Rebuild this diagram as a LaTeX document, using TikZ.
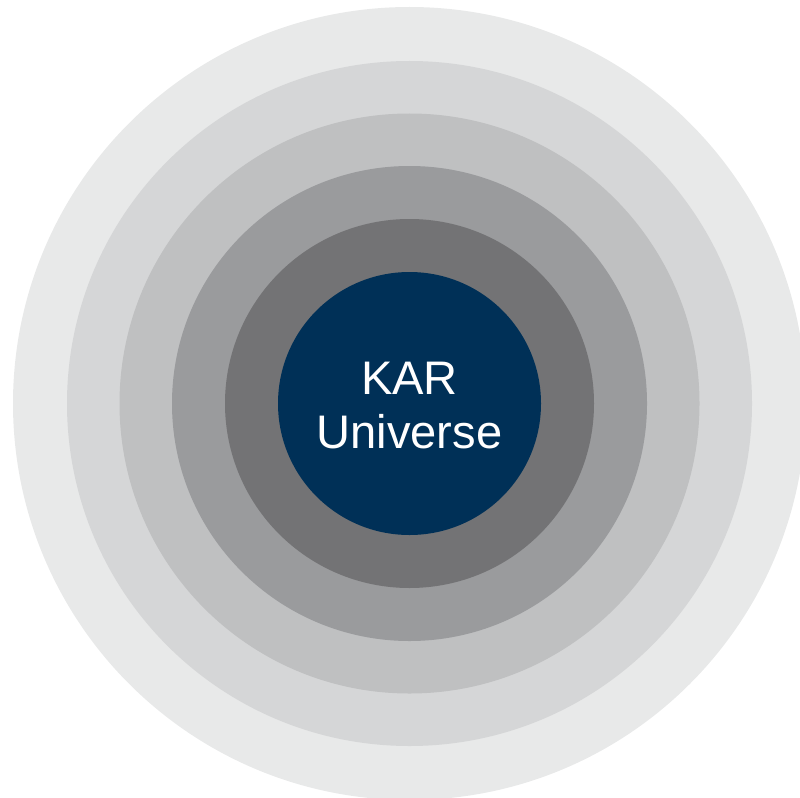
\documentclass[tikz,border=0pt]{standalone}
\usepackage{fontspec}
\setmainfont{Liberation Sans}
\usetikzlibrary{calc}
\definecolor{KarNavy}{RGB}{0,48,87}
\definecolor{RingA}{RGB}{232,233,233}
\definecolor{RingB}{RGB}{213,214,215}
\definecolor{RingC}{RGB}{191,192,193}
\definecolor{RingD}{RGB}{154,155,157}
\definecolor{RingE}{RGB}{115,115,117}

\begin{document}
\begin{tikzpicture}
				\tikzstyle{ring}=[draw=none];
				\tikzstyle{every node}=[text=white, align=center, font=\fontsize{13.4}{15.6}\selectfont];
				\useasboundingbox (0,0) rectangle (8,-7.97);
				\clip (0,0) rectangle (8,-7.97);
				\coordinate (centre) at (4.095,-4.035);
				\fill [ring, RingA] (centre) circle (3.965);
				\fill [ring, RingB] (centre) circle (3.425);
				\fill [ring, RingC] (centre) circle (2.900);
				\fill [ring, RingD] (centre) circle (2.375);
				\fill [ring, RingE] (centre) circle (1.845);
				\fill [ring, KarNavy] (centre) circle (1.315);
				\node (kar) at ($(centre)+(0,-0.02)$) {KAR\\Universe};
			\end{tikzpicture}
\end{document}
